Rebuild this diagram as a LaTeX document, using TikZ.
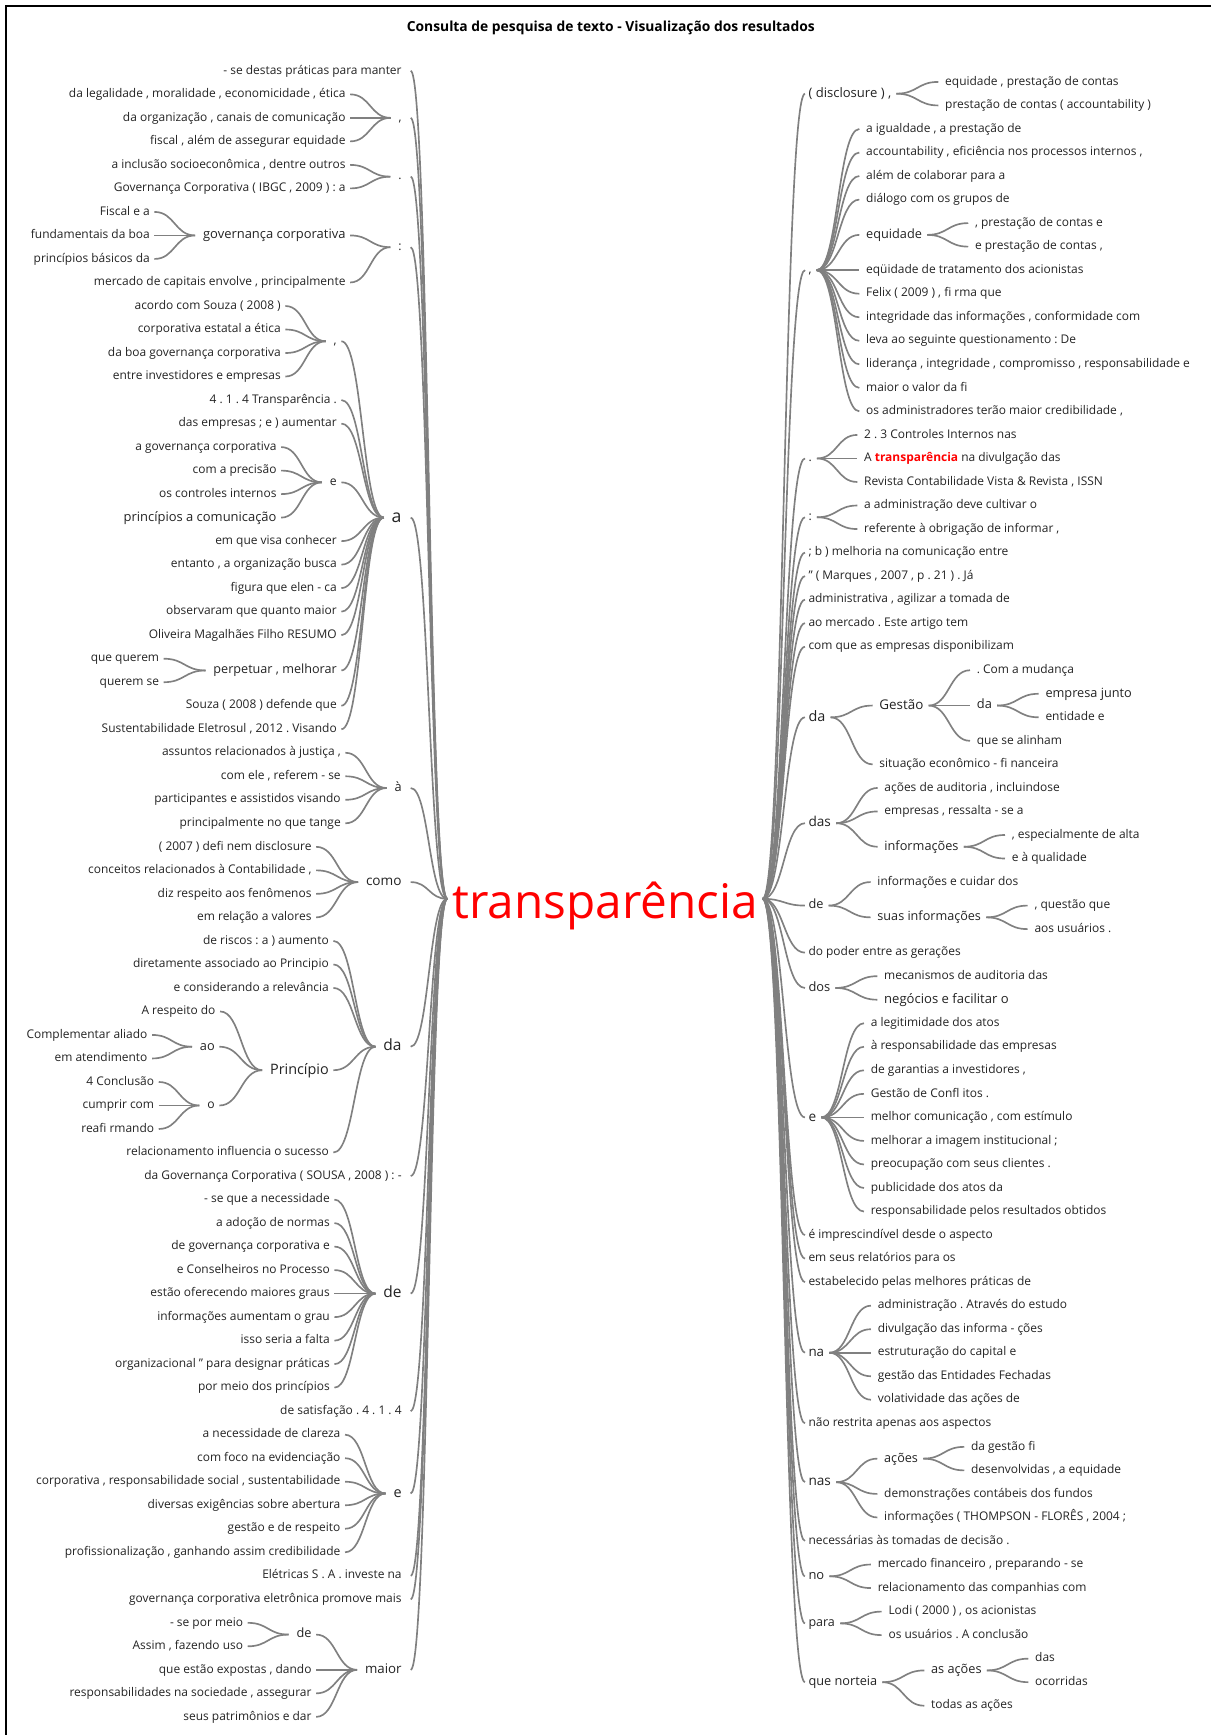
\documentclass[tikz,border=0pt]{standalone}
\usepackage{fontspec}
\setmainfont{Open Sans}
\usetikzlibrary{calc}
\definecolor{lg}{RGB}{128,128,128}
\definecolor{tx}{RGB}{35,35,35}
\newcommand\rowL[1]{64+21.243*#1}
\newcommand\rowR[1]{74+21.26*#1}
\newcommand\cc[2]{\draw[conn] let \p1=(#1), \p2=(#2), \n1={(\x2-\x1)/2} in (\p1) .. controls +(\n1,0) and +(-\n1,0) .. (\p2);}
\newcommand\lft[2]{\cc{[xshift=4pt]#1.east}{[xshift=-7pt]#2.west}}
\newcommand\rgt[2]{\cc{[xshift=4.5pt]#1.east}{[xshift=-6pt]#2.west}}
\newcommand\rootl[1]{\cc{[xshift=8pt]#1.east}{rootL}}
\newcommand\rootr[1]{\cc{rootR}{[xshift=-3pt]#1.west}}
\tikzset{
  fs/.style={font=\frenchspacing\fontsize{#1}{#1}\selectfont, text height=0.535*#1pt, text depth=0pt},
  nd/.style={inner xsep=0pt, inner ysep=1pt, text=tx, fs=10.8},
  lf/.style={nd, anchor=east},
  rn/.style={nd, anchor=west},
  conn/.style={draw=lg, line width=1.5pt},
}
\begin{document}
\frenchspacing
\begin{tikzpicture}[x=1pt,y=-1pt]
\useasboundingbox (0,0) rectangle (1094,1567.4);
\draw[line width=1.3pt] (5.4,1567.4) -- (5.4,5.4) -- (1094,5.4);
\node[anchor=base, inner sep=0, font=\bfseries\fontsize{12.5}{12.5}\selectfont] (title) at (551.8,28.6) {Consulta de pesquisa de texto - Visualização dos resultados};
\node[anchor=base, inner sep=0, text=red, font=\fontsize{43.1}{43.1}\selectfont] (root) at (546.7,829.5) {transparência};
\coordinate (rootL) at (404,812);
\coordinate (rootR) at (689,812);
% ---------------- LEFT level 1
\node[lf] (L0) at (363,\rowL{0}) {- se destas práticas para manter};
\node[lf,fs=11] (Lc) at (363,\rowL{2}) {,};
\node[lf,fs=11] (Ld) at (363,\rowL{4.5}) {.};
\node[lf,fs=11] (Lk) at (363,\rowL{7.5}) {:};
\node[lf,fs=16] (La) at (363,\rowL{19}) {a};
\node[lf,fs=11.5] (Lag) at (363,\rowL{30.5}) {à};
\node[lf,fs=12.3] (Lcomo) at (363,\rowL{34.5}) {como};
\node[lf,fs=14] (Lda) at (363,\rowL{41.5}) {da};
\node[lf] (L47) at (363,\rowL{47}) {da Governança Corporativa ( SOUSA , 2008 ) : -};
\node[lf,fs=14] (Lde) at (363,\rowL{52}) {de};
\node[lf] (L57) at (363,\rowL{57}) {de satisfação . 4 . 1 . 4};
\node[lf,fs=13] (Le) at (363,\rowL{60.5}) {e};
\node[lf] (L64) at (363,\rowL{64}) {Elétricas S . A . investe na};
\node[lf] (L65) at (363,\rowL{65}) {governança corporativa eletrônica promove mais};
\node[lf,fs=12] (Lmaior) at (363,\rowL{68}) {maior};
% ---------------- LEFT deeper
\node[lf] (L1) at (312.3,\rowL{1}) {da legalidade , moralidade , economicidade , ética};
\node[lf] (L2) at (312.3,\rowL{2}) {da organização , canais de comunicação};
\node[lf] (L3) at (312.3,\rowL{3}) {fiscal , além de assegurar equidade};
\node[lf] (L4) at (312.3,\rowL{4}) {a inclusão socioeconômica , dentre outros};
\node[lf] (L5) at (312.3,\rowL{5}) {Governança Corporativa ( IBGC , 2009 ) : a};
\node[lf,fs=11.7] (Lgc) at (312.3,\rowL{7}) {governança corporativa};
\node[lf] (L9) at (312.3,\rowL{9}) {mercado de capitais envolve , principalmente};
\node[lf] (L6) at (135.5,\rowL{6}) {Fiscal e a};
\node[lf] (L7) at (135.5,\rowL{7}) {fundamentais da boa};
\node[lf] (L8) at (135.5,\rowL{8}) {princípios básicos da};
\node[lf,fs=11] (Lc2) at (304.4,\rowL{11.5}) {,};
\node[lf] (L10) at (253.8,\rowL{10}) {acordo com Souza ( 2008 )};
\node[lf] (L11) at (253.8,\rowL{11}) {corporativa estatal a ética};
\node[lf] (L12) at (253.8,\rowL{12}) {da boa governança corporativa};
\node[lf] (L13) at (253.8,\rowL{13}) {entre investidores e empresas};
\node[lf] (L14) at (304.4,\rowL{14}) {4 . 1 . 4 Transparência .};
\node[lf] (L15) at (304.4,\rowL{15}) {das empresas ; e ) aumentar};
\node[lf,fs=11] (Le2) at (304.4,\rowL{17.5}) {e};
\node[lf] (L16) at (250,\rowL{16}) {a governança corporativa};
\node[lf] (L17) at (250,\rowL{17}) {com a precisão};
\node[lf] (L18) at (250,\rowL{18}) {os controles internos};
\node[lf,fs=11.7] (L19) at (250,\rowL{19}) {princípios a comunicação};
\node[lf] (L20) at (304.4,\rowL{20}) {em que visa conhecer};
\node[lf] (L21) at (304.4,\rowL{21}) {entanto , a organização busca};
\node[lf] (L22) at (304.4,\rowL{22}) {figura que elen - ca};
\node[lf] (L23) at (304.4,\rowL{23}) {observaram que quanto maior};
\node[lf] (L24) at (304.4,\rowL{24}) {Oliveira Magalhães Filho RESUMO};
\node[lf,fs=11.4] (Lpm) at (304.4,\rowL{25.5}) {perpetuar , melhorar};
\node[lf] (L25) at (143.9,\rowL{25}) {que querem};
\node[lf] (L26) at (143.9,\rowL{26}) {querem se};
\node[lf] (L27) at (304.4,\rowL{27}) {Souza ( 2008 ) defende que};
\node[lf] (L28) at (304.4,\rowL{28}) {Sustentabilidade Eletrosul , 2012 . Visando};
\node[lf] (L29) at (308,\rowL{29}) {assuntos relacionados à justiça ,};
\node[lf] (L30) at (308,\rowL{30}) {com ele , referem - se};
\node[lf] (L31) at (308,\rowL{31}) {participantes e assistidos visando};
\node[lf] (L32) at (308,\rowL{32}) {principalmente no que tange};
\node[lf] (L33) at (281.6,\rowL{33}) {( 2007 ) defi nem disclosure};
\node[lf] (L34) at (281.6,\rowL{34}) {conceitos relacionados à Contabilidade ,};
\node[lf] (L35) at (281.6,\rowL{35}) {diz respeito aos fenômenos};
\node[lf] (L36) at (281.6,\rowL{36}) {em relação a valores};
\node[lf] (L37) at (297.2,\rowL{37}) {de riscos : a ) aumento};
\node[lf] (L38) at (297.2,\rowL{38}) {diretamente associado ao Principio};
\node[lf] (L39) at (297.2,\rowL{39}) {e considerando a relevância};
\node[lf,fs=13] (Lpr) at (297.2,\rowL{42.5}) {Princípio};
\node[lf] (L40) at (194.8,\rowL{40}) {A respeito do};
\node[lf,fs=11.5] (Lao) at (194.2,\rowL{41.5}) {ao};
\node[lf,fs=11] (Lo) at (194.2,\rowL{44}) {o};
\node[lf] (L41) at (133.4,\rowL{41}) {Complementar aliado};
\node[lf] (L42) at (133.4,\rowL{42}) {em atendimento};
\node[lf] (L43) at (139.4,\rowL{43}) {4 Conclusão};
\node[lf] (L44) at (139.4,\rowL{44}) {cumprir com};
\node[lf] (L45) at (139.4,\rowL{45}) {reafi rmando};
\node[lf] (L46) at (297.2,\rowL{46}) {relacionamento influencia o sucesso};
\node[lf] (L48) at (298.1,\rowL{48}) {- se que a necessidade};
\node[lf] (L49) at (298.1,\rowL{49}) {a adoção de normas};
\node[lf] (L50) at (298.1,\rowL{50}) {de governança corporativa e};
\node[lf] (L51) at (298.1,\rowL{51}) {e Conselheiros no Processo};
\node[lf] (L52) at (298.1,\rowL{52}) {estão oferecendo maiores graus};
\node[lf] (L53) at (298.1,\rowL{53}) {informações aumentam o grau};
\node[lf] (L54) at (298.1,\rowL{54}) {isso seria a falta};
\node[lf] (L55) at (298.1,\rowL{55}) {organizacional " para designar práticas};
\node[lf] (L56) at (298.1,\rowL{56}) {por meio dos princípios};
\node[lf] (L58) at (307.7,\rowL{58}) {a necessidade de clareza};
\node[lf] (L59) at (307.7,\rowL{59}) {com foco na evidenciação};
\node[lf] (L60) at (307.7,\rowL{60}) {corporativa , responsabilidade social , sustentabilidade};
\node[lf] (L61) at (307.7,\rowL{61}) {diversas exigências sobre abertura};
\node[lf] (L62) at (307.7,\rowL{62}) {gestão e de respeito};
\node[lf] (L63) at (307.7,\rowL{63}) {profissionalização , ganhando assim credibilidade};
\node[lf,fs=11.5] (Lde2) at (281.6,\rowL{66.5}) {de};
\node[lf] (L66) at (219.8,\rowL{66}) {- se por meio};
\node[lf] (L67) at (219.8,\rowL{67}) {Assim , fazendo uso};
\node[lf] (L68) at (281.6,\rowL{68}) {que estão expostas , dando};
\node[lf] (L69) at (281.6,\rowL{69}) {responsabilidades na sociedade , assegurar};
\node[lf] (L70) at (281.6,\rowL{70}) {seus patrimônios e dar};
% ---------------- RIGHT level 1
\node[rn,fs=11.8] (Rdisc) at (730.2,\rowR{0.5}) {( disclosure ) ,};
\node[rn,fs=11] (Rc) at (730.2,\rowR{8}) {,};
\node[rn,fs=11] (Rdot) at (730.2,\rowR{16}) {.};
\node[rn,fs=11] (Rk) at (730.2,\rowR{18.5}) {:};
\node[rn] (R20) at (730.2,\rowR{20}) {; b ) melhoria na comunicação entre};
\node[rn] (R21) at (730.2,\rowR{21}) {" ( Marques , 2007 , p . 21 ) . Já};
\node[rn] (R22) at (730.2,\rowR{22}) {administrativa , agilizar a tomada de};
\node[rn] (R23) at (730.2,\rowR{23}) {ao mercado . Este artigo tem};
\node[rn] (R24) at (730.2,\rowR{24}) {com que as empresas disponibilizam};
\node[rn,fs=13] (Rda) at (730.2,\rowR{27}) {da};
\node[rn,fs=12.3] (Rdas) at (730.2,\rowR{31.5}) {das};
\node[rn,fs=11.5] (Rde) at (730.2,\rowR{35}) {de};
\node[rn] (R37) at (730.2,\rowR{37}) {do poder entre as gerações};
\node[rn,fs=11.6] (Rdos) at (730.2,\rowR{38.5}) {dos};
\node[rn,fs=12.3] (Re) at (730.2,\rowR{44}) {e};
\node[rn] (R49) at (730.2,\rowR{49}) {é imprescindível desde o aspecto};
\node[rn] (R50) at (730.2,\rowR{50}) {em seus relatórios para os};
\node[rn] (R51) at (730.2,\rowR{51}) {estabelecido pelas melhores práticas de};
\node[rn,fs=12.1] (Rna) at (730.2,\rowR{54}) {na};
\node[rn] (R57) at (730.2,\rowR{57}) {não restrita apenas aos aspectos};
\node[rn,fs=12.3] (Rnas) at (730.2,\rowR{59.5}) {nas};
\node[rn] (R62) at (730.2,\rowR{62}) {necessárias às tomadas de decisão .};
\node[rn,fs=11.7] (Rno) at (730.2,\rowR{63.5}) {no};
\node[rn,fs=11.3] (Rpara) at (730.2,\rowR{65.5}) {para};
\node[rn,fs=11.5] (Rqn) at (730.2,\rowR{68}) {que norteia};
% ---------------- RIGHT deeper
\node[rn] (R0) at (853.7,\rowR{0}) {equidade , prestação de contas};
\node[rn] (R1) at (853.7,\rowR{1}) {prestação de contas ( accountability )};
\node[rn] (R2) at (782.3,\rowR{2}) {a igualdade , a prestação de};
\node[rn] (R3) at (782.3,\rowR{3}) {accountability , eficiência nos processos internos ,};
\node[rn] (R4) at (782.3,\rowR{4}) {além de colaborar para a};
\node[rn] (R5) at (782.3,\rowR{5}) {diálogo com os grupos de};
\node[rn,fs=11.5] (Req) at (782.3,\rowR{6.5}) {equidade};
\node[rn] (R6) at (880.7,\rowR{6}) {, prestação de contas e};
\node[rn] (R7) at (880.7,\rowR{7}) {e prestação de contas ,};
\node[rn] (R8) at (782.3,\rowR{8}) {eqüidade de tratamento dos acionistas};
\node[rn] (R9) at (782.3,\rowR{9}) {Felix ( 2009 ) , fi rma que};
\node[rn] (R10) at (782.3,\rowR{10}) {integridade das informações , conformidade com};
\node[rn] (R11) at (782.3,\rowR{11}) {leva ao seguinte questionamento : De};
\node[rn] (R12) at (782.3,\rowR{12}) {liderança , integridade , compromisso , responsabilidade e};
\node[rn] (R13) at (782.3,\rowR{13}) {maior o valor da fi};
\node[rn] (R14) at (782.3,\rowR{14}) {os administradores terão maior credibilidade ,};
\node[rn] (R15) at (780.5,\rowR{15}) {2 . 3 Controles Internos nas};
\node[rn] (R16) at (780.5,\rowR{16}) {A \textcolor{red}{\bfseries transparência} na divulgação das};
\node[rn] (R17) at (780.5,\rowR{17}) {Revista Contabilidade Vista \& Revista , ISSN};
\node[rn] (R18) at (780.5,\rowR{18}) {a administração deve cultivar o};
\node[rn] (R19) at (780.5,\rowR{19}) {referente à obrigação de informar ,};
\node[rn,fs=12.1] (Rg) at (794.3,\rowR{26.5}) {Gestão};
\node[rn] (R25) at (882.3,\rowR{25}) {. Com a mudança};
\node[rn,fs=11.6] (Rda2) at (882.3,\rowR{26.5}) {da};
\node[rn,fs=11.5] (R26) at (944.3,\rowR{26}) {empresa junto};
\node[rn] (R27) at (944.3,\rowR{27}) {entidade e};
\node[rn] (R28) at (882.3,\rowR{28}) {que se alinham};
\node[rn] (R29) at (794.3,\rowR{29}) {situação econômico - fi nanceira};
\node[rn] (R30) at (798.8,\rowR{30}) {ações de auditoria , incluindose};
\node[rn] (R31) at (798.8,\rowR{31}) {empresas , ressalta - se a};
\node[rn,fs=11.5] (Rinf) at (798.8,\rowR{32.5}) {informações};
\node[rn] (R32) at (913.9,\rowR{32}) {, especialmente de alta};
\node[rn] (R33) at (913.9,\rowR{33}) {e à qualidade};
\node[rn] (R34) at (792.5,\rowR{34}) {informações e cuidar dos};
\node[rn,fs=11.4] (Rsi) at (792.5,\rowR{35.5}) {suas informações};
\node[rn] (R35) at (934.4,\rowR{35}) {, questão que};
\node[rn] (R36) at (934.4,\rowR{36}) {aos usuários .};
\node[rn] (R38) at (798.6,\rowR{38}) {mecanismos de auditoria das};
\node[rn,fs=11.8] (R39) at (798.6,\rowR{39}) {negócios e facilitar o};
\node[rn] (R40) at (786.5,\rowR{40}) {a legitimidade dos atos};
\node[rn] (R41) at (786.5,\rowR{41}) {à responsabilidade das empresas};
\node[rn] (R42) at (786.5,\rowR{42}) {de garantias a investidores ,};
\node[rn] (R43) at (786.5,\rowR{43}) {Gestão de Confl itos .};
\node[rn] (R44) at (786.5,\rowR{44}) {melhor comunicação , com estímulo};
\node[rn] (R45) at (786.5,\rowR{45}) {melhorar a imagem institucional ;};
\node[rn] (R46) at (786.5,\rowR{46}) {preocupação com seus clientes .};
\node[rn] (R47) at (786.5,\rowR{47}) {publicidade dos atos da};
\node[rn] (R48) at (786.5,\rowR{48}) {responsabilidade pelos resultados obtidos};
\node[rn] (R52) at (792.8,\rowR{52}) {administração . Através do estudo};
\node[rn] (R53) at (792.8,\rowR{53}) {divulgação das informa - ções};
\node[rn] (R54) at (792.8,\rowR{54}) {estruturação do capital e};
\node[rn] (R55) at (792.8,\rowR{55}) {gestão das Entidades Fechadas};
\node[rn] (R56) at (792.8,\rowR{56}) {volatividade das ações de};
\node[rn,fs=11.4] (Racoes) at (798.6,\rowR{58.5}) {ações};
\node[rn] (R58) at (877.1,\rowR{58}) {da gestão fi};
\node[rn] (R59) at (877.1,\rowR{59}) {desenvolvidas , a equidade};
\node[rn] (R60) at (798.6,\rowR{60}) {demonstrações contábeis dos fundos};
\node[rn] (R61) at (798.6,\rowR{61}) {informações ( THOMPSON - FLORÊS , 2004 ;};
\node[rn] (R63) at (792.8,\rowR{63}) {mercado financeiro , preparando - se};
\node[rn] (R64) at (792.8,\rowR{64}) {relacionamento das companhias com};
\node[rn] (R65) at (802.5,\rowR{65}) {Lodi ( 2000 ) , os acionistas};
\node[rn] (R66) at (802.5,\rowR{66}) {os usuários . A conclusão};
\node[rn,fs=11.5] (Raa) at (841,\rowR{67.5}) {as ações};
\node[rn] (R67) at (935,\rowR{67}) {das};
\node[rn] (R68) at (935,\rowR{68}) {ocorridas};
\node[rn] (R69) at (841,\rowR{69}) {todas as ações};
% ---------------- connectors LEFT
\foreach \q in {L0,Lc,Ld,Lk,La,Lag,Lcomo,Lda,L47,Lde,L57,Le,L64,L65,Lmaior} {\rootl{\q}}
\foreach \q in {L1,L2,L3} {\lft{\q}{Lc}}
\foreach \q in {L4,L5} {\lft{\q}{Ld}}
\foreach \q in {Lgc,L9} {\lft{\q}{Lk}}
\foreach \q in {L6,L7,L8} {\lft{\q}{Lgc}}
\foreach \q in {Lc2,L14,L15,Le2,L20,L21,L22,L23,L24,Lpm,L27,L28} {\lft{\q}{La}}
\foreach \q in {L10,L11,L12,L13} {\lft{\q}{Lc2}}
\foreach \q in {L16,L17,L18,L19} {\lft{\q}{Le2}}
\foreach \q in {L25,L26} {\lft{\q}{Lpm}}
\foreach \q in {L29,L30,L31,L32} {\lft{\q}{Lag}}
\foreach \q in {L33,L34,L35,L36} {\lft{\q}{Lcomo}}
\foreach \q in {L37,L38,L39,Lpr,L46} {\lft{\q}{Lda}}
\foreach \q in {L40,Lao,Lo} {\lft{\q}{Lpr}}
\foreach \q in {L41,L42} {\lft{\q}{Lao}}
\foreach \q in {L43,L44,L45} {\lft{\q}{Lo}}
\foreach \q in {L48,L49,L50,L51,L52,L53,L54,L55,L56} {\lft{\q}{Lde}}
\foreach \q in {L58,L59,L60,L61,L62,L63} {\lft{\q}{Le}}
\foreach \q in {Lde2,L68,L69,L70} {\lft{\q}{Lmaior}}
\foreach \q in {L66,L67} {\lft{\q}{Lde2}}
% ---------------- connectors RIGHT
\foreach \q in {Rdisc,Rc,Rdot,Rk,R20,R21,R22,R23,R24,Rda,Rdas,Rde,R37,Rdos,Re,R49,R50,R51,Rna,R57,Rnas,R62,Rno,Rpara,Rqn} {\rootr{\q}}
\foreach \q in {R0,R1} {\rgt{Rdisc}{\q}}
\foreach \q in {R2,R3,R4,R5,Req,R8,R9,R10,R11,R12,R13,R14} {\rgt{Rc}{\q}}
\foreach \q in {R6,R7} {\rgt{Req}{\q}}
\foreach \q in {R15,R16,R17} {\rgt{Rdot}{\q}}
\foreach \q in {R18,R19} {\rgt{Rk}{\q}}
\foreach \q in {Rg,R29} {\rgt{Rda}{\q}}
\foreach \q in {R25,Rda2,R28} {\rgt{Rg}{\q}}
\foreach \q in {R26,R27} {\rgt{Rda2}{\q}}
\foreach \q in {R30,R31,Rinf} {\rgt{Rdas}{\q}}
\foreach \q in {R32,R33} {\rgt{Rinf}{\q}}
\foreach \q in {R34,Rsi} {\rgt{Rde}{\q}}
\foreach \q in {R35,R36} {\rgt{Rsi}{\q}}
\foreach \q in {R38,R39} {\rgt{Rdos}{\q}}
\foreach \q in {R40,R41,R42,R43,R44,R45,R46,R47,R48} {\rgt{Re}{\q}}
\foreach \q in {R52,R53,R54,R55,R56} {\rgt{Rna}{\q}}
\foreach \q in {Racoes,R60,R61} {\rgt{Rnas}{\q}}
\foreach \q in {R58,R59} {\rgt{Racoes}{\q}}
\foreach \q in {R63,R64} {\rgt{Rno}{\q}}
\foreach \q in {R65,R66} {\rgt{Rpara}{\q}}
\foreach \q in {Raa,R69} {\rgt{Rqn}{\q}}
\foreach \q in {R67,R68} {\rgt{Raa}{\q}}
\end{tikzpicture}
\end{document}
